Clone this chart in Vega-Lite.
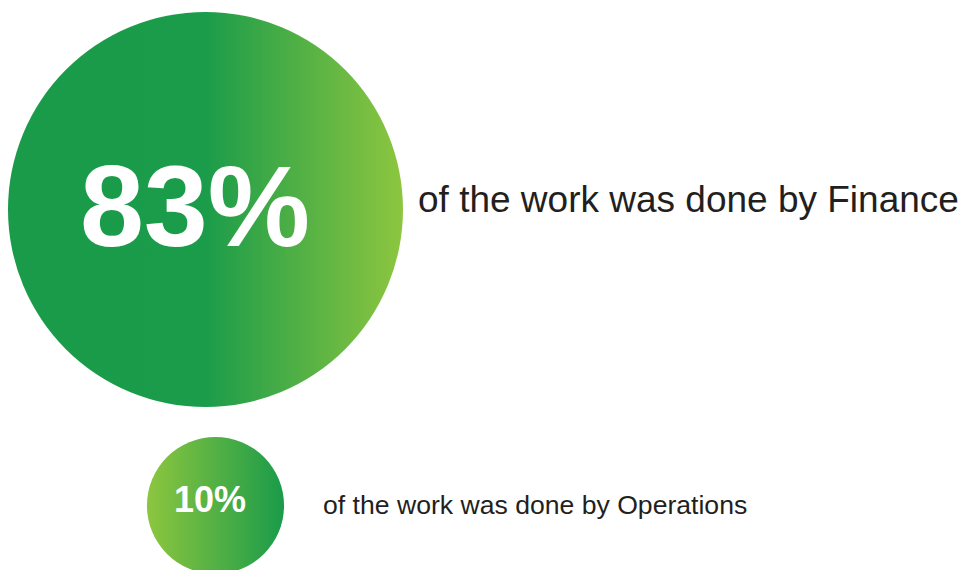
{
  "$schema": "https://vega.github.io/schema/vega-lite/v6.json",
  "width": 967,
  "height": 570,
  "autosize": {"type": "none"},
  "padding": 0,
  "background": "#ffffff",
  "config": {"view": {"stroke": null}},
  "data": {
    "values": [
      {"dept": "Finance", "share": 0.83, "label": "of the work was done by Finance"},
      {"dept": "Operations", "share": 0.10, "label": "of the work was done by Operations"}
    ]
  },
  "encoding": {
    "y": {
      "field": "dept",
      "type": "nominal",
      "axis": null,
      "scale": {"type": "point", "domain": ["Finance", "Operations"], "padding": 0.4628, "align": 0.7646}
    }
  },
  "layer": [
    {
      "transform": [{"filter": "datum.dept === 'Finance'"}],
      "mark": {
        "type": "point",
        "shape": "circle",
        "filled": true,
        "opacity": 1,
        "strokeWidth": 0,
        "fill": {
          "gradient": "linear",
          "x1": 0, "y1": 0, "x2": 1, "y2": 0,
          "stops": [
            {"offset": 0, "color": "#1a9b4a"},
            {"offset": 0.5, "color": "#1b9c4a"},
            {"offset": 1, "color": "#8dc63f"}
          ]
        }
      },
      "encoding": {
        "x": {"datum": 0, "type": "quantitative", "axis": null, "scale": {"domain": [-0.967, 3.5835], "zero": false, "nice": false}},
        "size": {"field": "share", "type": "quantitative", "legend": null, "scale": {"type": "linear", "domain": [0, 0.83], "range": [0, 156025]}}
      }
    },
    {
      "transform": [{"filter": "datum.dept === 'Operations'"}],
      "mark": {
        "type": "point",
        "shape": "circle",
        "filled": true,
        "opacity": 1,
        "strokeWidth": 0,
        "xOffset": 10,
        "fill": {
          "gradient": "linear",
          "x1": 0, "y1": 0, "x2": 1, "y2": 0,
          "stops": [
            {"offset": 0, "color": "#8dc63f"},
            {"offset": 1, "color": "#1a9b4a"}
          ]
        }
      },
      "encoding": {
        "x": {"datum": 0, "type": "quantitative"},
        "size": {"field": "share", "type": "quantitative", "legend": null}
      }
    },
    {
      "transform": [{"filter": "datum.dept === 'Finance'"}],
      "mark": {"type": "text", "font": "Liberation Sans", "fontWeight": "bold", "fontSize": 115, "fill": "#ffffff", "align": "center", "baseline": "alphabetic", "dx": -10.5, "dy": 36.5},
      "encoding": {
        "x": {"datum": 0, "type": "quantitative"},
        "text": {"field": "share", "type": "quantitative", "format": ".0%"}
      }
    },
    {
      "transform": [{"filter": "datum.dept === 'Operations'"}],
      "mark": {"type": "text", "font": "Liberation Sans", "fontWeight": "bold", "fontSize": 36, "fill": "#ffffff", "align": "center", "baseline": "alphabetic", "dx": 4.5, "dy": 6.5},
      "encoding": {
        "x": {"datum": 0, "type": "quantitative"},
        "text": {"field": "share", "type": "quantitative", "format": ".0%"}
      }
    },
    {
      "transform": [{"filter": "datum.dept === 'Finance'"}],
      "mark": {"type": "text", "font": "Liberation Sans", "fontSize": 37, "fill": "#231f20", "align": "left", "baseline": "alphabetic", "dy": 2.5},
      "encoding": {
        "x": {"datum": 1, "type": "quantitative"},
        "text": {"field": "label", "type": "nominal"}
      }
    },
    {
      "transform": [{"filter": "datum.dept === 'Operations'"}],
      "mark": {"type": "text", "font": "Liberation Sans", "fontSize": 26.6, "fill": "#231f20", "align": "left", "baseline": "alphabetic", "dx": -95, "dy": 8.5},
      "encoding": {
        "x": {"datum": 1, "type": "quantitative"},
        "text": {"field": "label", "type": "nominal"}
      }
    }
  ]
}
